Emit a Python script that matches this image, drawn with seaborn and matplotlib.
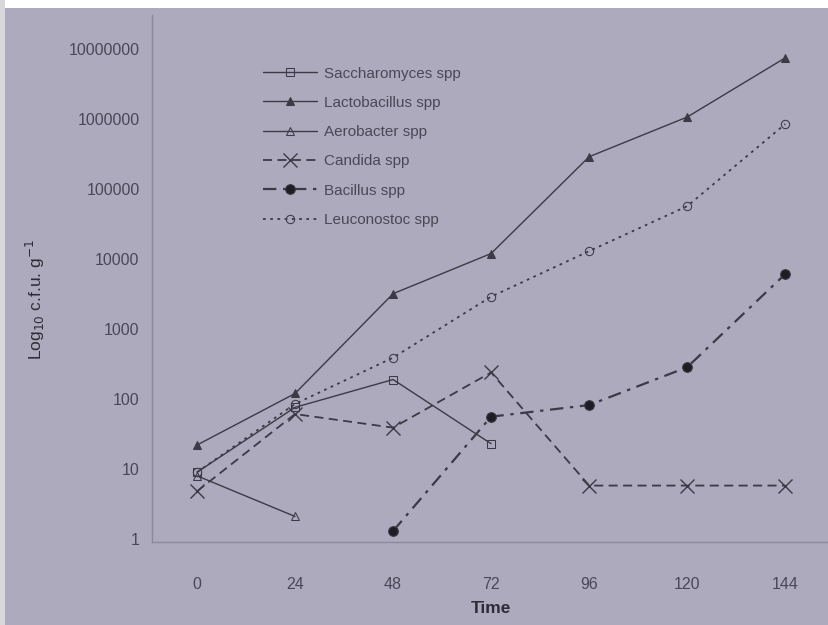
import numpy as np
import pandas as pd
import matplotlib
matplotlib.use("Agg")
import matplotlib.pyplot as plt
from matplotlib.patches import Rectangle
from matplotlib.ticker import FixedLocator, FixedFormatter, NullLocator
import seaborn as sns

# Sampling times (h)
time = [0, 24, 48, 72, 96, 120, 144]
x_tick_labels = ["0", "24", "48", "72", "96", "120", "144"]

# Viable counts (c.f.u. per g); NaN where an organism was not detected
saccharomyces = [9, 76, 190, 23, np.nan, np.nan, np.nan]
lactobacillus = [22, 120, 3200, 12000, 290000, 1070000, 7500000]
aerobacter = [8, 2.1, np.nan, np.nan, np.nan, np.nan, np.nan]
candida = [4.8, 61, 39, 240, 5.8, 5.8, 5.8]
bacillus = [np.nan, np.nan, 1.3, 56, 82, 285, 6100]
leuconostoc = [9, 85, 390, 2900, 13000, 57000, 850000]

y_ticks = [1, 10, 100, 1000, 10000, 100000, 1000000, 10000000]
y_tick_labels = ["1", "10", "100", "1000", "10000", "100000", "1000000", "10000000"]

paper = "#adaabd"
ink = "#3c3a46"

sns.set_theme(style="white")
plt.rcParams["font.family"] = ["Liberation Sans", "DejaVu Sans"]

fig = plt.figure(figsize=(8.29, 6.25), dpi=100, facecolor=paper)
ax = fig.add_axes([0.1834, 0.1328, 0.818, 0.843])
ax.set_facecolor(paper)

# page margin strips
fig.patches.append(Rectangle((0, 1 - 8 / 625), 1, 8 / 625, transform=fig.transFigure,
                             facecolor="white", edgecolor="none", zorder=-1))
fig.patches.append(Rectangle((0, 0), 5 / 829, 1, transform=fig.transFigure,
                             facecolor="#d9d7de", edgecolor="none", zorder=-1))

series = [
    ("Saccharomyces spp", saccharomyces, dict(marker="s", markerfacecolor="none", markersize=6,
                                              linestyle="-", linewidth=1.0)),
    ("Lactobacillus spp", lactobacillus, dict(marker="^", markerfacecolor=ink, markersize=6,
                                              linestyle="-", linewidth=1.0)),
    ("Aerobacter spp", aerobacter, dict(marker="^", markerfacecolor="none", markersize=6,
                                        linestyle="-", linewidth=1.0)),
    ("Candida spp", candida, dict(marker="x", markersize=10, markeredgewidth=1.0,
                                  linestyle=(0, (5, 3)), linewidth=1.3)),
    ("Bacillus spp", bacillus, dict(marker="o", markerfacecolor="#1e1d24", markersize=7,
                                    linestyle=(0, (6, 3, 1.5, 3)), linewidth=1.6)),
    ("Leuconostoc spp", leuconostoc, dict(marker="o", markerfacecolor="none", markersize=6,
                                          linestyle=(0, (1.5, 2.5)), linewidth=1.3)),
]

for name, values, style in series:
    df = pd.DataFrame({"time": time, "cfu": values}).dropna()
    sns.lineplot(data=df, x="time", y="cfu", ax=ax, color=ink, markeredgecolor=ink,
                 label=name, **style)

ax.set_yscale("log")
ax.set_xlim(-11, 155)
ax.set_ylim(0.906, 3.06e7)
ax.yaxis.set_major_locator(FixedLocator(y_ticks))
ax.yaxis.set_major_formatter(FixedFormatter(y_tick_labels))
ax.yaxis.set_minor_locator(NullLocator())
ax.set_xticks(time)
ax.set_xticklabels(x_tick_labels)

ax.tick_params(axis="both", length=0, colors="#4a4856", labelsize=11.5)
ax.tick_params(axis="x", pad=25)
ax.tick_params(axis="y", pad=9)

for side in ["top", "right"]:
    ax.spines[side].set_visible(False)
for side in ["left", "bottom"]:
    ax.spines[side].set_color("#8d899d")
    ax.spines[side].set_linewidth(1.0)

ax.set_xlabel("Time", fontsize=12.5, fontweight="bold", color="#2e2c36", labelpad=7)
ax.set_ylabel(r"Log$_{10}$ c.f.u. g$^{-1}$", fontsize=12.5, color="#2e2c36")
ax.yaxis.set_label_coords(-0.155, 0.46)

leg = ax.legend(loc="upper left", bbox_to_anchor=(0.155, 0.914), frameon=False,
                fontsize=11, handlelength=3.5, labelspacing=1.0, handletextpad=0.45,
                borderaxespad=0)
for t in leg.get_texts():
    t.set_color("#4a4856")

fig.savefig("out.png", dpi=100, facecolor=paper)
